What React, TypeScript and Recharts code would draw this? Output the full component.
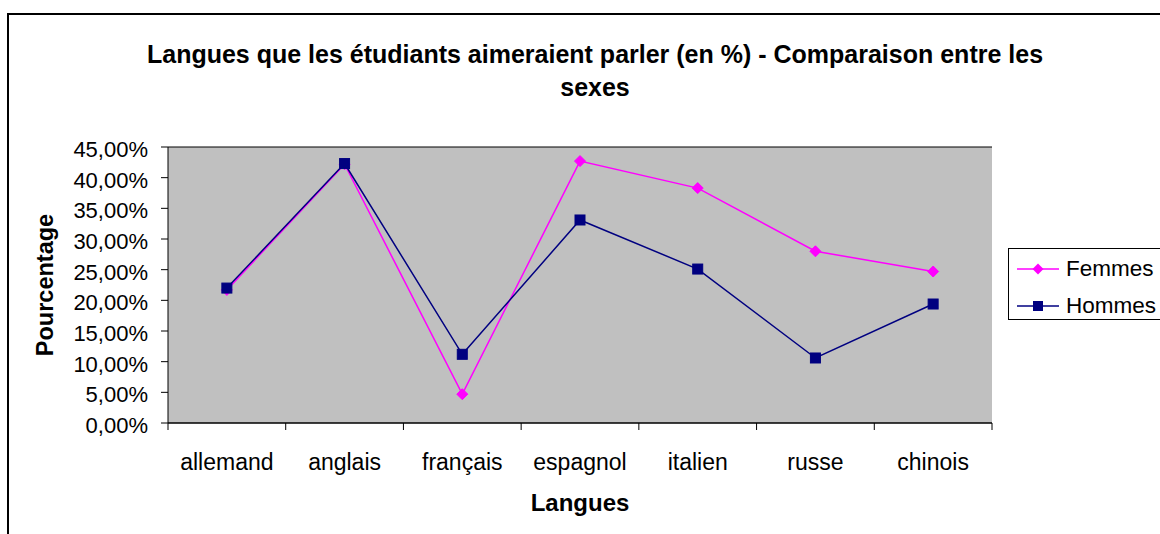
import { LineChart, Line, XAxis, YAxis, CartesianGrid, Legend } from "recharts";

const categories = ["allemand", "anglais", "français", "espagnol", "italien", "russe", "chinois"];
const femmes = [21.7, 42.2, 4.7, 42.7, 38.3, 28.0, 24.7];
const hommes = [22.0, 42.3, 11.2, 33.1, 25.1, 10.6, 19.4];
const yTicks = [0, 5, 10, 15, 20, 25, 30, 35, 40, 45];

const data = categories.map((langue, i) => ({
  langue,
  femmes: femmes[i],
  hommes: hommes[i],
}));

const FONT = "'Liberation Sans', Arial, sans-serif";
const PINK = "#FF00FF";
const NAVY = "#000080";
const MARGIN = { top: 147, right: 168, bottom: 11, left: 8 };
const PLOT_W = 1160 - MARGIN.left - 160 - MARGIN.right;

const fmtPct = (v: number) => v.toFixed(2).replace(".", ",") + "%";

function XTick(props: any) {
  const { x, y, payload, index } = props;
  const bw = PLOT_W / categories.length;
  return (
    <g>
      <line x1={x - bw / 2} x2={x - bw / 2} y1={y - 8} y2={y - 1} stroke="#000" />
      {index === categories.length - 1 && (
        <line x1={x + bw / 2} x2={x + bw / 2} y1={y - 8} y2={y - 1} stroke="#000" />
      )}
      <text x={x} y={y + 39} textAnchor="middle" fontSize={23} fontFamily={FONT} fill="#000">
        {payload.value}
      </text>
    </g>
  );
}

function YTick(props: any) {
  const { x, y, payload } = props;
  return (
    <text x={x} y={y + 10} textAnchor="end" fontSize={22} fontFamily={FONT} fill="#000">
      {fmtPct(payload.value)}
    </text>
  );
}

function Diamond(props: any) {
  const { cx, cy } = props;
  if (cx == null || cy == null) return null;
  return (
    <polygon
      points={`${cx},${cy - 5.5} ${cx + 5.5},${cy} ${cx},${cy + 5.5} ${cx - 5.5},${cy}`}
      fill={PINK}
      stroke={PINK}
    />
  );
}

function Square(props: any) {
  const { cx, cy } = props;
  if (cx == null || cy == null) return null;
  return <rect x={cx - 5} y={cy - 5} width={10} height={10} fill={NAVY} stroke={NAVY} />;
}

function LegendBox(props: any) {
  const items = props.payload || [];
  return (
    <div
      style={{
        width: 160,
        height: 72,
        border: "1px solid #000",
        background: "#fff",
        boxSizing: "border-box",
        paddingTop: 1,
        fontFamily: FONT,
        fontSize: 22.5,
      }}
    >
      {items.map((it: any) => (
        <div key={it.value} style={{ display: "flex", alignItems: "center", height: 37 }}>
          <svg width={56} height={20}>
            <line x1={8} x2={50} y1={10} y2={10} stroke={it.color} strokeWidth={1.5} />
            {it.dataKey === "femmes" ? (
              <polygon points="29,4.5 34.5,10 29,15.5 23.5,10" fill={it.color} />
            ) : (
              <rect x={24} y={5} width={10} height={10} fill={it.color} />
            )}
          </svg>
          <span style={{ marginLeft: 1 }}>{it.value}</span>
        </div>
      ))}
    </div>
  );
}

export default function App() {
  return (
    <div
      style={{
        position: "fixed",
        left: 0,
        top: 0,
        width: 1160,
        height: 534,
        overflow: "hidden",
        background: "#fff",
      }}
    >
      <div
        style={{
          position: "absolute",
          left: 7,
          top: 13,
          width: 1220,
          height: 600,
          border: "2px solid #000",
        }}
      />
      <div
        style={{
          position: "absolute",
          left: 0,
          top: 38,
          width: 1190,
          textAlign: "center",
          fontFamily: FONT,
          fontWeight: "bold",
          fontSize: 25,
          lineHeight: "33px",
        }}
      >
        Langues que les étudiants aimeraient parler (en %) - Comparaison entre les
        <br />
        sexes
      </div>
      <div style={{ position: "absolute", left: 0, top: 0 }}>
        <LineChart width={1160} height={534} data={data} margin={MARGIN}>
          <CartesianGrid horizontal vertical={false} stroke="#000" fill="#C0C0C0" />
          <XAxis
            dataKey="langue"
            scale="band"
            height={100}
            stroke="#000"
            tickLine={false}
            tick={<XTick />}
            interval={0}
            label={(p: any) => {
              const vb = p.viewBox;
              return (
                <text
                  x={vb.x + vb.width / 2}
                  y={vb.y + 88}
                  textAnchor="middle"
                  fontSize={24}
                  fontWeight="bold"
                  fontFamily={FONT}
                  fill="#000"
                >
                  Langues
                </text>
              );
            }}
          />
          <YAxis
            yAxisId="left"
            width={160}
            domain={[0, 45]}
            ticks={yTicks}
            interval={0}
            stroke="#000"
            tickSize={7}
            tickMargin={13}
            tick={<YTick />}
            label={(p: any) => {
              const vb = p.viewBox;
              const cx = vb.x + 37;
              const cy = vb.y + vb.height / 2;
              return (
                <text
                  x={cx}
                  y={cy}
                  transform={`rotate(-90 ${cx} ${cy})`}
                  textAnchor="middle"
                  dominantBaseline="central"
                  fontSize={23.5}
                  fontWeight="bold"
                  fontFamily={FONT}
                  fill="#000"
                >
                  Pourcentage
                </text>
              );
            }}
          />
          <YAxis
            yAxisId="right"
            orientation="right"
            width={0}
            domain={[0, 45]}
            tick={false}
            tickLine={false}
            stroke="#808080"
          />
          <Legend
            layout="vertical"
            align="center"
            verticalAlign="middle"
            wrapperStyle={{ left: 1008, top: 248, width: 160 }}
            content={<LegendBox />}
          />
          <Line
            yAxisId="left"
            dataKey="femmes"
            name="Femmes"
            stroke={PINK}
            strokeWidth={1.5}
            dot={<Diamond />}
            activeDot={false}
            isAnimationActive={false}
          />
          <Line
            yAxisId="left"
            dataKey="hommes"
            name="Hommes"
            stroke={NAVY}
            strokeWidth={1.5}
            dot={<Square />}
            activeDot={false}
            isAnimationActive={false}
          />
        </LineChart>
      </div>
    </div>
  );
}
